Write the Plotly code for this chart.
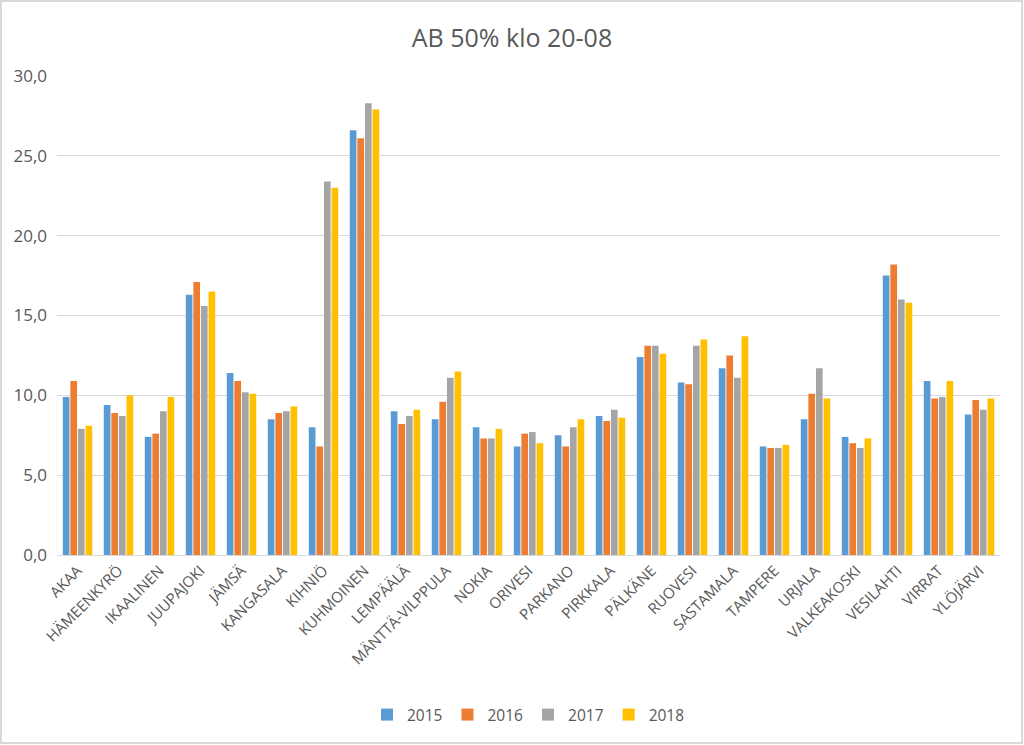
import plotly.graph_objects as go

categories = ["AKAA", "HÄMEENKYRÖ", "IKAALINEN", "JUUPAJOKI", "JÄMSÄ", "KANGASALA", "KIHNIÖ",
              "KUHMOINEN", "LEMPÄÄLÄ", "MÄNTTÄ-VILPPULA", "NOKIA", "ORIVESI", "PARKANO",
              "PIRKKALA", "PÄLKÄNE", "RUOVESI", "SASTAMALA", "TAMPERE", "URJALA",
              "VALKEAKOSKI", "VESILAHTI", "VIRRAT", "YLÖJÄRVI"]

v2015 = [9.9, 9.4, 7.4, 16.3, 11.4, 8.5, 8.0, 26.6, 9.0, 8.5, 8.0, 6.8, 7.5, 8.7, 12.4, 10.8, 11.7, 6.8, 8.5, 7.4, 17.5, 10.9, 8.8]
v2016 = [10.9, 8.9, 7.6, 17.1, 10.9, 8.9, 6.8, 26.1, 8.2, 9.6, 7.3, 7.6, 6.8, 8.4, 13.1, 10.7, 12.5, 6.7, 10.1, 7.0, 18.2, 9.8, 9.7]
v2017 = [7.9, 8.7, 9.0, 15.6, 10.2, 9.0, 23.4, 28.3, 8.7, 11.1, 7.3, 7.7, 8.0, 9.1, 13.1, 13.1, 11.1, 6.7, 11.7, 6.7, 16.0, 9.9, 9.1]
v2018 = [8.1, 10.0, 9.9, 16.5, 10.1, 9.3, 23.0, 27.9, 9.1, 11.5, 7.9, 7.0, 8.5, 8.6, 12.6, 13.5, 13.7, 6.9, 9.8, 7.3, 15.8, 10.9, 9.8]

series_names = ["2015", "2016", "2017", "2018"]
colors = ["#5B9BD5", "#ED7D31", "#A5A5A5", "#FFC000"]
y_ticks = [0, 5, 10, 15, 20, 25, 30]

fig = go.Figure()
for name, vals, col in zip(series_names, [v2015, v2016, v2017, v2018], colors):
    fig.add_trace(go.Bar(x=categories, y=vals, name=name, marker=dict(color=col, line=dict(width=0))))

W, H = 1024, 745
ml, mr, mt, mb = 57, 24, 76, 190
pw, ph = W - ml - mr, H - mt - mb

fig.update_layout(
    width=W, height=H,
    margin=dict(l=ml, r=mr, t=mt, b=mb),
    barmode="group", bargap=0.26, bargroupgap=0.12,
    separators=", ",
    paper_bgcolor="white", plot_bgcolor="white",
    font=dict(family="Open Sans, Liberation Sans, sans-serif", color="#595959", size=15),
    title=dict(text="AB 50% klo 20-08", x=0.5, xanchor="center", y=1 - 38 / H, yanchor="middle",
               font=dict(size=25, color="#595959")),
    xaxis=dict(tickangle=-45, showgrid=False, showline=True, linecolor="#d9d9d9", linewidth=1,
               ticks="", tickfont=dict(size=15, color="#595959")),
    yaxis=dict(range=[0, 30], tickvals=y_ticks, tickformat=".1f", showgrid=True, gridcolor="#d9d9d9",
               gridwidth=1, zeroline=False, showline=False, ticks="", ticklabelstandoff=9,
               tickfont=dict(size=17, color="#595959")),
    legend=dict(orientation="h", x=0.5, xanchor="center", y=-(715 - (mt + ph)) / ph, yanchor="middle",
                font=dict(size=15.5, color="#595959"), itemwidth=30, traceorder="normal"),
    shapes=[dict(type="rect", xref="paper", yref="paper",
                 x0=-(ml - 1) / pw, x1=1 + (mr - 2) / pw, y0=-(mb - 2) / ph, y1=1 + (mt - 1) / ph,
                 line=dict(color="#d9d9d9", width=2), fillcolor="rgba(0,0,0,0)", layer="below")],
)

fig.write_html("out.html", config={"displayModeBar": False},
               post_script="document.body.style.margin='0';document.body.style.overflow='hidden';")
